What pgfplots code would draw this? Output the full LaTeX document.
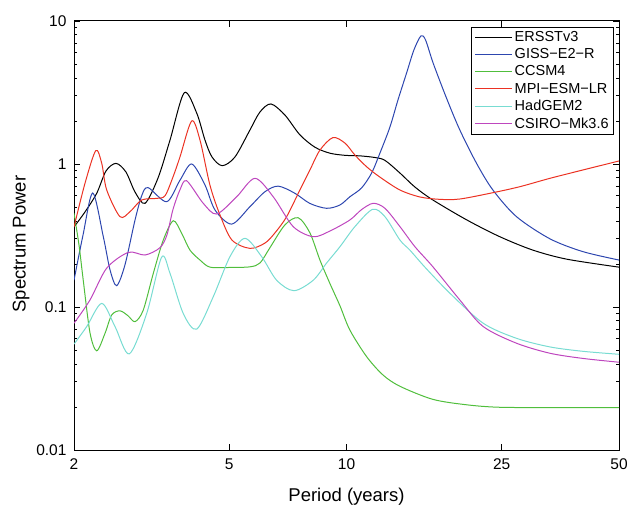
\documentclass[border=0pt]{standalone}
\usepackage{fontspec}
\setmainfont{Liberation Sans}
\usepackage{pgfplots}
\pgfplotsset{compat=1.18}

\definecolor{cblue}{RGB}{45,70,175}
\definecolor{cgreen}{RGB}{80,190,60}
\definecolor{cred}{RGB}{235,50,35}
\definecolor{ccyan}{RGB}{120,220,210}
\definecolor{cmag}{RGB}{190,70,190}

\begin{document}
\begin{tikzpicture}
\begin{axis}[
  scale only axis,
  width=545pt, height=429pt,
  xmode=log, ymode=log,
  xmin=2, xmax=50, ymin=0.01, ymax=10,
  xtick={2,5,10,25,50}, xticklabels={2,5,10,25,50},
  ytick={0.01,0.1,1,10}, yticklabels={0.01,0.1,1,10},
  xminorticks=false,
  tick align=inside,
  major tick length=6pt, minor tick length=3.5pt,
  axis line style={line width=1pt},
  every tick/.style={black, line width=0.8pt},
  tick label style={font=\fontsize{15.5}{18}\selectfont},
  xticklabel style={yshift=-5pt},
  yticklabel style={xshift=-4pt},
  label style={font=\fontsize{18.5}{22}\selectfont},
  xlabel={Period (years)},
  ylabel={Spectrum Power},
  xlabel style={at={(ticklabel cs:0.5,12pt)}},
  ylabel style={at={(ticklabel cs:0.48,0pt)}},
  legend style={at={(1,1)}, anchor=north east, xshift=-5pt, yshift=-6pt,
    draw=black, line width=0.8pt, row sep=1.6pt,
    font=\fontsize{14.5}{17}\selectfont, cells={anchor=west}},
  legend image code/.code={\draw[#1, line width=1pt] (0pt,0pt) -- (37pt,0pt);},
  every axis plot/.append style={line width=1pt, smooth},
]
% ERSSTv3
\addplot[black] coordinates {
 (2.000,0.363) (2.134,0.462) (2.287,0.624) (2.416,0.894) (2.564,1.01)
 (2.718,0.879) (2.868,0.637) (3.042,0.531) (3.285,0.798) (3.526,1.47)
 (3.836,3.15) (4.128,2.27) (4.335,1.47) (4.518,1.12) (4.80,0.973)
 (5.175,1.12) (5.654,1.73) (5.998,2.31) (6.40,2.63) (6.951,2.2)
 (7.594,1.6) (8.30,1.31) (9.067,1.19) (9.908,1.15) (10.82,1.14)
 (11.83,1.11) (12.55,1.06) (13.71,0.865) (14.98,0.69) (16.66,0.56)
 (20.36,0.406) (24.74,0.31) (30.06,0.25) (36.73,0.216) (50,0.19)};
% GISS-E2-R
\addplot[cblue] coordinates {
 (2.000,0.154) (2.109,0.318) (2.234,0.627) (2.378,0.31) (2.474,0.182)
 (2.573,0.141) (2.702,0.197) (2.868,0.406) (2.988,0.607) (3.100,0.683)
 (3.459,0.545) (3.740,0.77) (4.008,1.0) (4.335,0.713) (4.599,0.477)
 (5.075,0.38) (5.654,0.503) (6.178,0.64) (6.683,0.70) (7.374,0.624)
 (8.056,0.53) (8.891,0.49) (9.620,0.517) (10.20,0.59) (10.93,0.68)
 (11.60,0.865) (12.18,1.19) (12.92,1.81) (13.55,2.8) (14.26,4.33)
 (14.89,6.27) (15.52,7.86) (15.95,7.37) (16.69,5.06) (18.06,2.88)
 (19.53,1.73) (21.56,1.01) (23.74,0.658) (27.30,0.428)
 (33.24,0.30) (40.38,0.244) (50,0.213)};
% CCSM4
\addplot[cgreen] coordinates {
 (2.000,0.452) (2.060,0.271) (2.112,0.154) (2.198,0.066) (2.287,0.0494)
 (2.402,0.0655) (2.499,0.088) (2.624,0.094) (2.750,0.087) (2.868,0.079)
 (3.010,0.095) (3.195,0.172) (3.389,0.294) (3.595,0.401) (3.778,0.327)
 (3.968,0.25) (4.209,0.213) (4.465,0.19) (5.024,0.189) (5.654,0.191)
 (5.998,0.203) (6.363,0.26) (6.951,0.375) (7.518,0.421) (8.056,0.33)
 (8.547,0.213) (9.067,0.146) (9.620,0.102) (10.20,0.069) (11.26,0.045)
 (12.40,0.0335) (13.71,0.0279) (16.66,0.0226) (20.36,0.0207) (24.74,0.0199)
 (35.26,0.0198) (50,0.0198)};
% MPI-ESM-LR
\addplot[cred] coordinates {
 (2.000,0.363) (2.134,0.733) (2.274,1.24) (2.356,1.01) (2.426,0.658)
 (2.624,0.428) (2.784,0.464) (2.983,0.56) (3.260,0.575) (3.424,0.6)
 (3.588,0.81) (3.740,1.12) (4.008,2.0) (4.209,1.47) (4.465,0.71)
 (4.737,0.44) (5.083,0.294) (5.654,0.257) (6.178,0.28) (6.554,0.33)
 (7.022,0.428) (7.594,0.658) (8.056,0.908) (8.547,1.25) (9.228,1.53)
 (9.908,1.40) (10.51,1.155) (11.28,0.953) (12.18,0.81) (13.71,0.658)
 (15.43,0.588) (17.36,0.566) (19.53,0.569) (23.74,0.63) (27.84,0.694)
 (33.24,0.794) (40.38,0.908) (50,1.05)};
% HadGEM2
\addplot[ccyan] coordinates {
 (2.000,0.055) (2.156,0.073) (2.356,0.106) (2.548,0.073) (2.772,0.047)
 (3.072,0.09) (3.356,0.223) (3.526,0.172) (3.814,0.09) (4.128,0.07)
 (4.552,0.118) (5.024,0.225) (5.490,0.302) (6.058,0.225) (6.618,0.154)
 (7.331,0.13) (8.218,0.154) (8.891,0.203) (9.620,0.264) (10.51,0.365) (11.67,0.482)
 (12.55,0.428) (13.71,0.294) (14.54,0.25) (15.89,0.19) (18.41,0.125)
 (22.42,0.077) (27.30,0.0604) (33.24,0.0526) (40.38,0.049) (50,0.0467)};
% CSIRO-Mk3.6
\addplot[cmag] coordinates {
 (2.000,0.077) (2.198,0.112) (2.426,0.187) (2.756,0.241) (3.042,0.231)
 (3.324,0.26) (3.464,0.32) (3.588,0.48) (3.740,0.66) (3.890,0.764)
 (4.291,0.531) (4.645,0.447) (5.227,0.59) (5.824,0.794) (6.487,0.59)
 (7.300,0.365) (8.218,0.31) (9.067,0.34) (10.20,0.406) (10.93,0.48) (11.71,0.531)
 (12.55,0.49) (13.71,0.365) (14.98,0.264) (16.66,0.191) (19.53,0.112)
 (22.42,0.073) (27.30,0.0558) (33.24,0.0475) (40.38,0.0437) (50,0.0411)};
\legend{ERSSTv3, GISS−E2−R, CCSM4, MPI−ESM−LR, HadGEM2, CSIRO−Mk3.6}
\coordinate (sw) at (rel axis cs:0,0);
\coordinate (ne) at (rel axis cs:1,1);
\end{axis}
\pgfresetboundingbox
\path[use as bounding box] (sw) ++(-74pt,-59pt) rectangle ([shift={(13pt,21pt)}]ne);
\end{tikzpicture}
\end{document}
